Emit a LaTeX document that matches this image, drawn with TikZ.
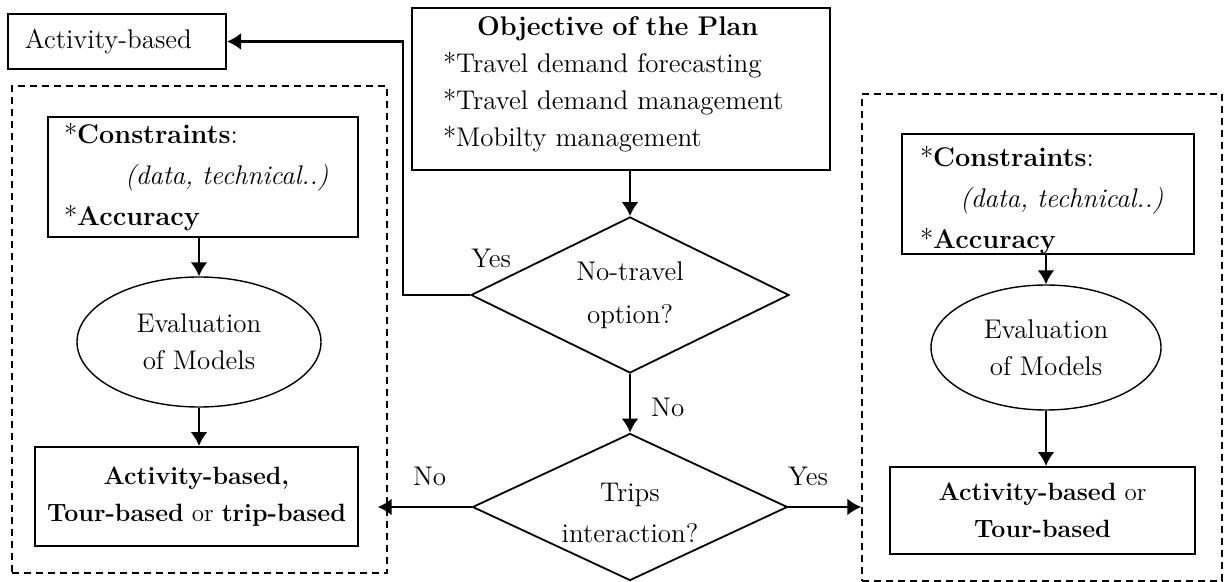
\documentclass[tikz,border=0pt]{standalone}
\usepackage{fontspec}
\usetikzlibrary{shapes.geometric,arrows.meta,positioning}
\begin{document}
\begin{tikzpicture}[x=0.5pt,y=-0.5pt,
  >={Latex[length=7pt,width=8.5pt]},
  arr/.style={->,line width=1.2pt},
  box/.style={draw,line width=1pt,inner sep=0pt},
  frame/.style={draw,dash pattern=on 3.5pt off 2.5pt,line width=0.7pt,inner sep=0pt},
  eval/.style={draw,ellipse,line width=0.7pt,inner sep=0pt,align=center},
  test/.style={draw,diamond,aspect=2,line width=0.9pt,inner sep=0pt,align=center},
  result/.style={box,align=center,font=\fontsize{12.5}{18.5}\selectfont},
  lbl/.style={inner sep=1pt},
  font=\fontsize{13.5}{18.5}\selectfont]
\useasboundingbox (0,0) rectangle (1225,582);
% dashed groups
\node[frame,minimum width=187.5pt,minimum height=243.5pt] (lframe) at (199.5,329.5) {};
\node[frame,minimum width=180pt,minimum height=243.5pt] (rframe) at (1042,337.5) {};
% top
\node[box,minimum width=209pt,minimum height=81pt,text width=178pt,align=left] (obj) at (621,89)
  {\hspace*{17pt}\textbf{Objective of the Plan}\\{*}Travel demand forecasting\\{*}Travel demand management\\{*}Mobilty management\rule[-7.5pt]{0pt}{0pt}};
\node[box,minimum width=109pt,minimum height=27.5pt,text width=92pt,align=left] (act) at (117,41.5) {Activity-based};
% decisions
\node[test,minimum width=159pt,minimum height=78pt] (notravel) at (630,295) {No-travel\\[3pt]option?};
\node[test,aspect=2.2,minimum width=157.5pt,minimum height=73.5pt] (trips) at (630,507) {\rule{0pt}{15pt}Trips\\[2pt]interaction?};
% left group
\node[box,minimum width=155pt,minimum height=60pt,text width=139pt,align=left] (lcon) at (203,177)
  {{*}\textbf{Constraints}:\\[2pt]\hspace*{30.5pt}\textit{(data, technical..)}\\[2pt]{*}\textbf{Accuracy}};
\node[eval,minimum width=122pt,minimum height=65pt] (leval) at (199,342) {Evaluation\\of Models};
\node[result,minimum width=161.5pt,minimum height=49.5pt] (lres) at (196.5,496.5)
  {\textbf{Activity-based,}\\\textbf{Tour-based} or \textbf{trip-based}};
% right group
\node[box,minimum width=146pt,minimum height=59pt,text width=128pt,align=left] (rcon) at (1048,194)
  {\rule{0pt}{16.5pt}{*}\textbf{Constraints}:\\[2pt]\hspace*{20pt}\textit{(data, technical..)}\\[2pt]{*}\textbf{Accuracy}};
\node[eval,minimum width=115pt,minimum height=62.5pt] (reval) at (1046,347.5) {Evaluation\\of Models};
\node[result,minimum width=152.5pt,minimum height=43.5pt] (rres) at (1042.5,510.5)
  {\textbf{Activity-based} or\\\textbf{Tour-based}};
% connectors
\draw[arr] (obj.south -| notravel.north) -- (notravel.north);
\draw[arr] (notravel.west) node[lbl,above right=12pt and -1pt] (yes1) {Yes} -- ++(-67,0) |- (act.east);
\draw[arr] (notravel.south) -- node[lbl,right=9pt,pos=0.57] (no1) {No} (trips.north);
\draw[arr,shorten >=-5pt] (trips.west) -- node[lbl,above=9pt] (no2) {No} (trips.west -| lframe.east);
\draw[arr] (trips.east) -- node[lbl,above=9pt,pos=0.27] (yes2) {Yes} (trips.east -| rframe.west);
\draw[arr] (leval.north |- lcon.south) -- (leval.north);
\draw[arr] (leval.south) -- (leval.south |- lres.north);
\draw[arr] (reval.north |- rcon.south) -- (reval.north);
\draw[arr] (reval.south) -- (reval.south |- rres.north);
\end{tikzpicture}
\end{document}
